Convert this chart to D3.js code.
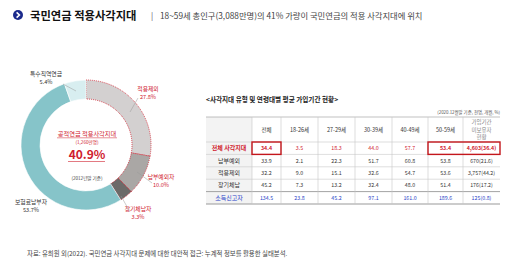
<!DOCTYPE html>
<html><head><meta charset="utf-8">
<script src="https://cdn.jsdelivr.net/npm/d3@7/dist/d3.min.js"></script>
<style>body{margin:0;background:#fff}svg{display:block;font-family:"Noto Sans CJK KR","Noto Sans",sans-serif}</style>
</head><body><svg id="c" width="512" height="269"></svg>
<script>
const segNames = ["적용제외","납부예외자","장기체납자","보험료납부자","특수직역연금"];
const segValues = [27.8, 10.0, 3.3, 53.7, 5.4];
const segBlind = [true, true, true, false, false];
const colHeaders = ["", "전체", "18-26세", "27-29세", "30-39세", "40-49세", "50-59세", "가입기간|미보유자|현황"];
const rowLabels = ["전체 사각지대", "납부예외", "적용제외", "장기체납", "소득신고자"];
const rowValues = [
  ["34.4","3.5","18.3","44.0","57.7","53.4","4,603(36.4)"],
  ["33.9","2.1","22.3","51.7","60.8","53.8","670(21.6)"],
  ["32.2","9.0","15.1","32.6","54.7","53.6","3,757(44.2)"],
  ["45.2","7.3","13.2","32.4","48.0","51.4","176(17.2)"],
  ["134.5","23.8","45.2","97.1","161.0","189.6","125(0.8)"]
];

const svg = d3.select("#c");
const RED = "#d0202e", BLUE = "#2a3fc8";

// title
svg.append("circle").attr("cx",18).attr("cy",15).attr("r",5).attr("fill","#1b2a8c");
svg.append("path").attr("d","M16.6,12.4 L19.4,15 L16.6,17.6").attr("fill","none").attr("stroke","#fff").attr("stroke-width",1.6);
svg.append("text").attr("x",30).attr("y",19.5).attr("font-size",11.3).attr("font-weight","bold").attr("fill","#111").text("국민연금 적용사각지대");
svg.append("text").attr("x",151).attr("y",18.5).attr("font-size",8).attr("fill","#555").text("|");
svg.append("text").attr("x",160).attr("y",18.5).attr("font-size",8.3).attr("fill","#444").text("18~59세 총인구(3,088만명)의 41% 가량이 국민연금의 적용 사각지대에 위치");

// donut
const cx = 86, cy = 145;
const g = svg.append("g").attr("transform",`translate(${cx},${cy})`);
const colors = d3.scaleOrdinal().domain(segNames).range(["#d3d0d0","#aaa7a5","#6c6a68","#86c4c9","#d8eef0"]);
const pie = d3.pie().sort(null).value(d=>d.v);
const arcs = pie(segNames.map((n,i)=>({n, v:segValues[i], b:segBlind[i]})));
const arc = d3.arc().innerRadius(46).outerRadius(65);
g.selectAll("path.seg").data(arcs).join("path").attr("class","seg")
  .attr("d",arc).attr("fill",d=>colors(d.data.n))
  .attr("stroke",d=>d.data.b?RED:"#fff").attr("stroke-width",d=>d.data.b?0.8:0.6)
  .attr("stroke-dasharray",d=>d.data.b?"1,1":null);

// labels
const labelPos = {
  "적용제외":{x:148,y:91,c:RED,l:[138,98,130,112]},
  "납부예외자":{x:161,y:179,c:RED,l:[137,172,152,183]},
  "장기체납자":{x:138,y:211,c:RED,l:[121,196,130,212]},
  "보험료납부자":{x:31,y:204,c:"#333",l:null},
  "특수직역연금":{x:46,y:76,c:"#333",l:[63,84,76,91]}
};
arcs.forEach(d=>{
  const p = labelPos[d.data.n];
  svg.append("text").attr("x",p.x).attr("y",p.y).attr("text-anchor","middle").attr("font-size",5.8).attr("fill",p.c).text(d.data.n);
  svg.append("text").attr("x",p.x).attr("y",p.y+7.5).attr("text-anchor","middle").attr("font-size",5.6).attr("fill",p.c).text(d3.format(".1f")(d.data.v)+"%");
  if(p.l) svg.append("line").attr("x1",p.l[0]).attr("y1",p.l[1]).attr("x2",p.l[2]).attr("y2",p.l[3]).attr("stroke","#999").attr("stroke-width",0.5);
});

// center text
svg.append("text").attr("x",cx+1).attr("y",136).attr("text-anchor","middle").attr("font-size",6.2).attr("fill",RED).text("공적연금 적용사각지대");
svg.append("line").attr("x1",57).attr("x2",117).attr("y1",137.8).attr("y2",137.8).attr("stroke",RED).attr("stroke-width",0.5);
svg.append("text").attr("x",cx+1).attr("y",143.5).attr("text-anchor","middle").attr("font-size",4.6).attr("fill",RED).text("(1,260만명)");
svg.append("text").attr("x",cx+1).attr("y",159).attr("text-anchor","middle").attr("font-size",12).attr("font-weight","bold").attr("fill",RED).text("40.9%");
svg.append("line").attr("x1",68).attr("x2",105).attr("y1",161.5).attr("y2",161.5).attr("stroke",RED).attr("stroke-width",0.6);
svg.append("text").attr("x",cx+1).attr("y",180).attr("text-anchor","middle").attr("font-size",4.6).attr("fill","#444").text("(2012년말 기준)");

// table
svg.append("text").attr("x",206).attr("y",102).attr("font-size",6.6).attr("font-weight","bold").attr("fill","#222").text("<사각지대 유형 및 연령대별 평균 가입기간 현황>");
svg.append("text").attr("x",500).attr("y",114).attr("text-anchor","end").attr("font-size",4.4).attr("fill","#555").text("(2020.12월말 기준, 천명, 개월, %)");

const colEdges = [206, 252, 281, 318, 355, 392, 428, 463, 500];
const tTop = 117, headH = 25, rowH = 12.4;
const rowY = i => tTop + headH + i*rowH;
const tBottom = rowY(rowLabels.length);
const tg = svg.append("g");
tg.append("rect").attr("x",colEdges[0]).attr("y",tTop).attr("width",colEdges[1]-colEdges[0]).attr("height",tBottom-tTop).attr("fill","#f3f3f3");
[tTop, ...rowLabels.map((_,i)=>rowY(i)), tBottom].forEach((y,i,a)=>{
  tg.append("line").attr("x1",colEdges[0]).attr("x2",colEdges[8]).attr("y1",y).attr("y2",y)
    .attr("stroke",(i===0||i===a.length-1||i===a.length-2)?"#999":"#c8c8c8").attr("stroke-width",(i===a.length-1)?1.2:(i===a.length-2?0.9:0.6));
});
colEdges.slice(1,-1).forEach(x=>{
  tg.append("line").attr("x1",x).attr("x2",x).attr("y1",tTop).attr("y2",tBottom).attr("stroke","#c8c8c8").attr("stroke-width",0.6);
});
colHeaders.forEach((h,j)=>{
  if(!h) return;
  const xm = (colEdges[j]+colEdges[j+1])/2;
  const parts = h.split("|");
  parts.forEach((p,k)=>{
    tg.append("text").attr("x",xm).attr("y", tTop + headH/2 + 2 + (k-(parts.length-1)/2)*7.2)
      .attr("text-anchor","middle").attr("font-size",5.5).attr("fill",parts.length>1?"#888":"#333").text(p);
  });
});
rowLabels.forEach((lab,i)=>{
  const y = rowY(i) + rowH/2 + 2;
  const col = i===0?RED:(i===4?BLUE:"#333");
  tg.append("text").attr("x",(colEdges[0]+colEdges[1])/2).attr("y",y).attr("text-anchor","middle")
    .attr("font-size",6).attr("font-weight",i===0?"bold":"normal").attr("fill",col).text(lab);
  rowValues[i].forEach((v,j)=>{
    tg.append("text").attr("x",(colEdges[j+1]+colEdges[j+2])/2).attr("y",y).attr("text-anchor","middle")
      .attr("font-size",5.3).attr("font-weight",(i===0&&(j===0||j>=5))?"bold":"normal").attr("fill",col).text(v);
  });
});
tg.append("rect").attr("x",colEdges[1]).attr("y",rowY(0)).attr("width",colEdges[2]-colEdges[1]).attr("height",rowH).attr("fill","none").attr("stroke","#c4161c").attr("stroke-width",1.4);
tg.append("rect").attr("x",colEdges[6]).attr("y",rowY(0)).attr("width",colEdges[8]-colEdges[6]).attr("height",rowH).attr("fill","none").attr("stroke","#c4161c").attr("stroke-width",1.4);

svg.append("text").attr("x",27).attr("y",256).attr("font-size",6.4).attr("fill","#444").text("자료: 유희원 외(2022). 국민연금 사각지대 문제에 대한 대안적 접근: 누계적 정보를 활용한 실태분석.");
</script></body></html>
